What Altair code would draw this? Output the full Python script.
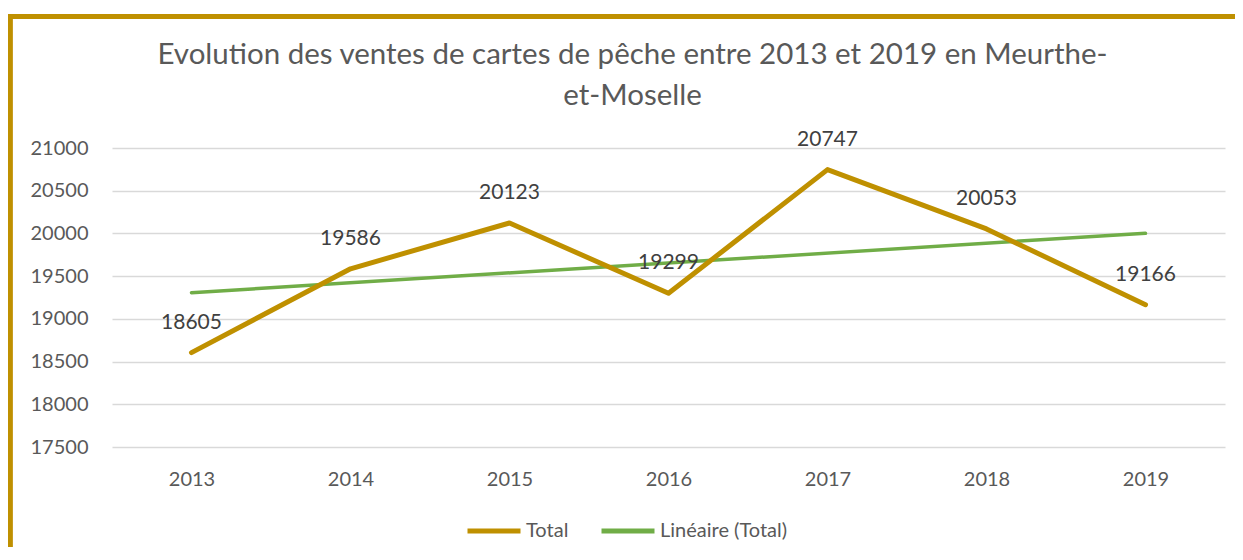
import altair as alt
import pandas as pd

years = [2013, 2014, 2015, 2016, 2017, 2018, 2019]
ventes = [18605, 19586, 20123, 19299, 20747, 20053, 19166]
series_total = "Total"
series_trend = "Linéaire (Total)"
title_lines = ["Evolution des ventes de cartes de pêche entre 2013 et 2019 en Meurthe-", "et-Moselle"]
y_ticks = [17500, 18000, 18500, 19000, 19500, 20000, 20500, 21000]

GOLD = "#BF9000"
GREEN = "#70AD47"
FONT = "Lato"

df = pd.DataFrame({"Année": years, "Ventes": ventes})
df["Série"] = series_total

x_enc = alt.X("Année:Q",
              scale=alt.Scale(domain=[2012.5, 2019.5], nice=False, zero=False),
              axis=alt.Axis(values=years, format="d", title=None, grid=False,
                            ticks=False, domain=False, labelPadding=22,
                            labelFontSize=20, labelColor="#595959", labelFont=FONT))
y_enc = alt.Y("Ventes:Q",
              scale=alt.Scale(domain=[17500, 21000], nice=False, zero=False),
              axis=alt.Axis(values=y_ticks, format="d", title=None, grid=True, gridColor="#D9D9D9",
                            gridWidth=1.5, ticks=False, domain=False, labelPadding=24,
                            labelFontSize=20, labelColor="#595959", labelFont=FONT))
color_enc = alt.Color("Série:N",
                      scale=alt.Scale(domain=[series_total, series_trend], range=[GOLD, GREEN]),
                      legend=alt.Legend(title=None, orient="none", direction="horizontal",
                                        legendX=353, legendY=354,
                                        symbolType="stroke", symbolSize=2809,
                                        symbolStrokeWidth=5, labelFontSize=20,
                                        labelColor="#595959", labelFont=FONT,
                                        labelOffset=3, columnPadding=22))

total_line = alt.Chart(df).mark_line(strokeWidth=5, strokeCap="round", strokeJoin="round").encode(
    x=x_enc, y=y_enc, color=color_enc)

trend_line = alt.Chart(df).transform_regression(
    "Année", "Ventes", method="linear"
).transform_calculate(
    Série=f"'{series_trend}'"
).mark_line(strokeWidth=3.5, strokeCap="round").encode(
    x=x_enc, y=y_enc, color=color_enc)

labels = alt.Chart(df).mark_text(dy=-30, baseline="middle", align="center",
                                 fontSize=21, color="#404040", font=FONT).encode(
    x=x_enc, y=y_enc, text=alt.Text("Ventes:Q", format="d"))

border_top = alt.Chart(df).mark_rule(color=GOLD, strokeWidth=4.5).encode(
    x=alt.value(-104), x2=alt.value(1135), y=alt.value(-131.5))
border_left = alt.Chart(df).mark_rule(color=GOLD, strokeWidth=4.5).encode(
    x=alt.value(-102), y=alt.value(-133.5), y2=alt.value(420))

chart = alt.layer(trend_line, total_line, labels, border_top, border_left).properties(
    width=1113, height=299,
    autosize=alt.AutoSizeParams(type="none"),
    padding={"left": 104, "top": 140, "right": 10, "bottom": 100},
    title=alt.TitleParams(text=title_lines, anchor="middle", dx=-36, offset=0, dy=99,
                          fontSize=29.5, font=FONT, color="#595959",
                          fontWeight="normal", lineHeight=41),
).configure(background="white").configure_view(strokeWidth=0, stroke="transparent")

chart.save("out.html", embed_options={"renderer": "svg", "actions": False})
